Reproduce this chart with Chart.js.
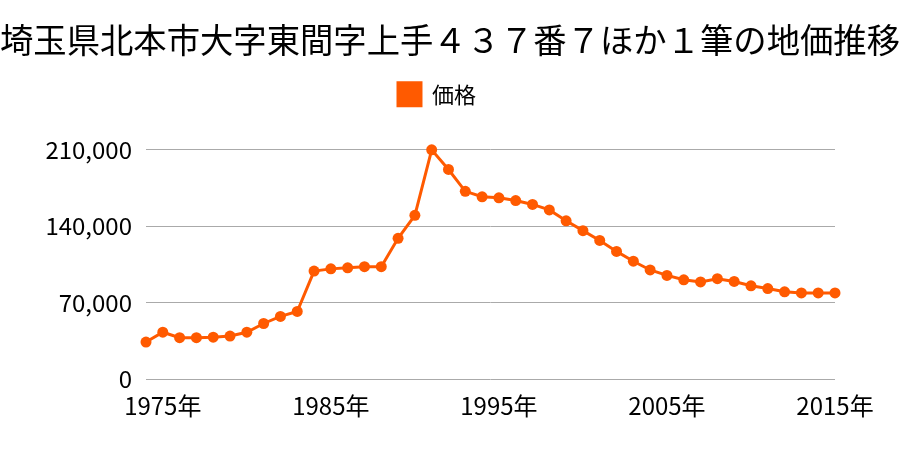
<!DOCTYPE html>
<html>
<head>
<meta charset="utf-8">
<script src="https://cdn.jsdelivr.net/npm/chart.js@4/dist/chart.umd.min.js"></script>
<style>
  body { margin: 0; background: #fff; }
  #wrap { width: 900px; height: 450px; }
</style>
</head>
<body>
<div id="wrap"><canvas id="myChart"></canvas></div>
<script>
// 年 (1974〜2015)
var years = [1974, 1975, 1976, 1977, 1978, 1979, 1980, 1981, 1982, 1983,
             1984, 1985, 1986, 1987, 1988, 1989, 1990, 1991, 1992, 1993,
             1994, 1995, 1996, 1997, 1998, 1999, 2000, 2001, 2002, 2003,
             2004, 2005, 2006, 2007, 2008, 2009, 2010, 2011, 2012, 2013,
             2014, 2015];

// 価格 (円/m2)
var prices = [34000, 43000, 38000, 38000, 38500, 39500, 43000, 51000, 57500, 62000,
              99000, 101000, 102000, 103000, 103000, 129000, 150000, 210000, 192000, 172000,
              167000, 166000, 163500, 160000, 155000, 145000, 136000, 127000, 117000, 108000,
              100000, 95000, 91000, 89000, 92000, 89500, 85500, 83000, 80000, 79000,
              79000, 79000];

var shownYears = [1975, 1985, 1995, 2005, 2015];
var yTicks = [0, 70000, 140000, 210000];

var titleText = '埼玉県北本市大字東間字上手４３７番７ほか１筆の地価推移';
var seriesName = '価格';
var color = '#ff5a00';
var jpFont = '"Noto Sans CJK JP", sans-serif';

var labels = years.map(function (y) { return y + '年'; });

// 凡例の下に余白を足す + 少し左へ寄せる
var legendGap = {
  id: 'legendGap',
  beforeInit: function (chart) {
    var fit = chart.legend.fit;
    chart.legend.fit = function () {
      fit.bind(chart.legend)();
      this.height += 34;
    };
  },
  afterLayout: function (chart) {
    chart.legend.right -= 26;
  }
};

var data = {
  labels: labels,
  datasets: [
    {
      label: seriesName,
      data: prices,
      borderColor: color,
      backgroundColor: color,
      borderWidth: 3,
      pointRadius: 5.5,
      pointHoverRadius: 5.5,
      pointBorderWidth: 0,
      pointBackgroundColor: color,
      lineTension: 0,
      clip: false
    }
  ]
};

var config = {
  type: 'line',
  data: data,
  plugins: [legendGap],
  options: {
    responsive: true,
    maintainAspectRatio: false,
    animation: false,
    layout: {
      padding: { left: 0, right: 0, top: 0, bottom: 26 }
    },
    plugins: {
      title: {
        display: true,
        text: titleText,
        color: '#000',
        font: { family: jpFont, size: 34, weight: 'normal' },
        padding: { top: 20, bottom: 12 }
      },
      legend: {
        display: true,
        labels: {
          color: '#000',
          boxWidth: 23,
          boxHeight: 23,
          padding: 10,
          font: { family: jpFont, size: 22 }
        }
      },
      tooltip: { enabled: false }
    },
    scales: {
      x: {
        grid: { display: false },
        border: { display: false },
        ticks: {
          color: '#000',
          autoSkip: false,
          maxRotation: 0,
          padding: 4,
          font: { family: jpFont, size: 24 },
          callback: function (val, i) {
            return shownYears.indexOf(years[i]) >= 0 ? labels[i] : '';
          }
        }
      },
      y: {
        min: 0,
        max: 210000,
        afterFit: function (s) { s.width = 146; },
        afterBuildTicks: function (s) {
          s.ticks = yTicks.map(function (v) { return { value: v }; });
        },
        grid: { color: '#aaaaaa', lineWidth: 1, drawTicks: false },
        border: { display: false },
        ticks: {
          color: '#000',
          padding: 14,
          font: { family: jpFont, size: 24 },
          callback: function (v) { return v.toLocaleString('en-US'); }
        }
      },
      // 右側の余白用 (表示なし)
      yRight: {
        position: 'right',
        afterFit: function (s) { s.width = 65; },
        grid: { display: false },
        border: { display: false },
        ticks: { display: false }
      }
    }
  }
};

var myChart = new Chart(document.getElementById('myChart'), config);
</script>
</body>
</html>
